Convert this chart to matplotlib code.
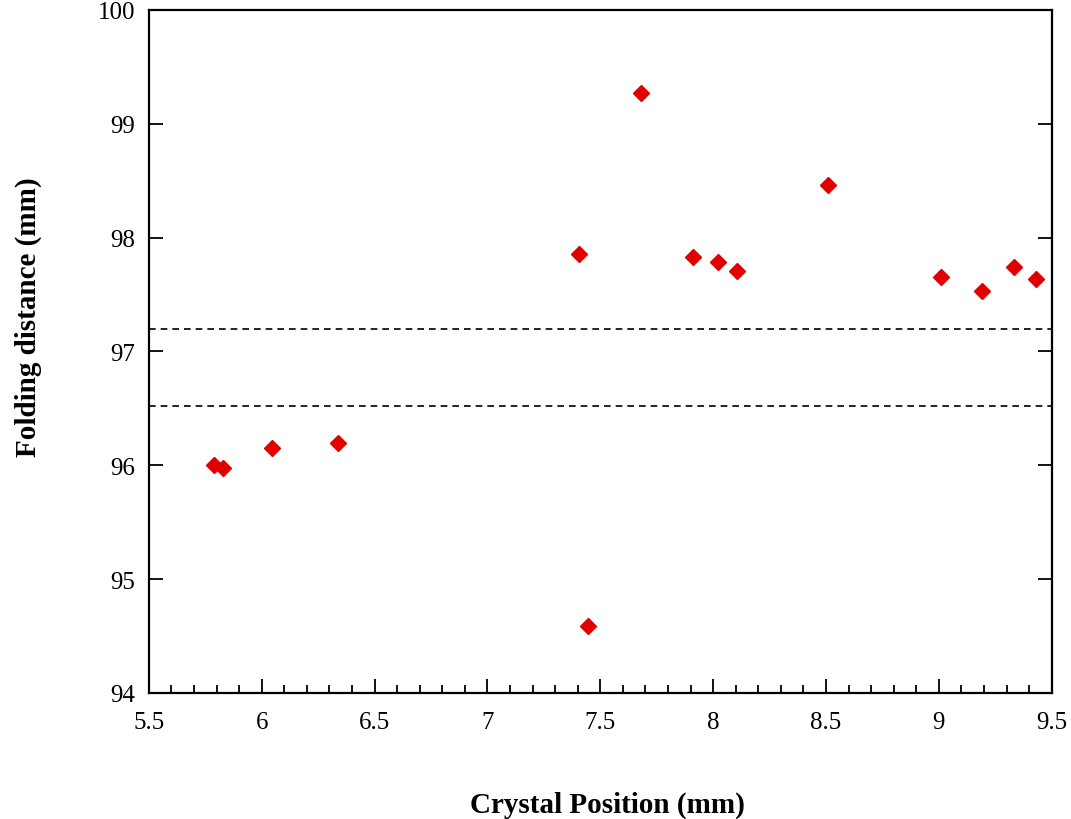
import matplotlib
matplotlib.use("Agg")
import matplotlib.pyplot as plt
from matplotlib.ticker import MultipleLocator

# crystal scan: position along the crystal vs measured folding distance
position = [5.79, 5.83, 6.045, 6.34, 7.405, 7.445, 7.68, 7.91, 8.02, 8.105,
            8.51, 9.01, 9.19, 9.335, 9.43]
folding = [96.00, 95.98, 96.15, 96.20, 97.86, 94.59, 99.27, 97.83, 97.79, 97.71,
           98.46, 97.65, 97.53, 97.74, 97.64]
limits = [97.20, 96.52]

plt.rcParams['font.family'] = ['Liberation Serif', 'DejaVu Serif']

fig = plt.figure(figsize=(10.71, 8.2), dpi=100)
ax = fig.add_axes([0.139, 0.1537, 0.843, 0.8329])

for h in limits:
    ax.axhline(h, color='black', lw=1.2, ls=(0, (4, 3)))
ax.plot(position, folding, 'D', color='#e00000', ms=8, mec='#e00000', zorder=3)

ax.set_xlim(5.5, 9.5)
ax.set_ylim(94, 100)
ax.xaxis.set_major_locator(MultipleLocator(0.5))
ax.xaxis.set_minor_locator(MultipleLocator(0.1))
ax.yaxis.set_major_locator(MultipleLocator(1))
ax.xaxis.set_major_formatter(plt.FuncFormatter(lambda v, p: '%g' % v))

ax.tick_params(axis='x', which='major', direction='in', length=10, width=1.3,
               top=False, labelsize=18, pad=13)
ax.tick_params(axis='x', which='minor', direction='in', length=6, width=1.3, top=False)
ax.tick_params(axis='y', which='major', direction='in', length=10, width=1.3,
               right=True, labelsize=18, pad=10)
for s in ax.spines.values():
    s.set_linewidth(1.6)

ax.set_xlabel('Crystal Position (mm)', fontsize=21, fontweight='bold')
ax.set_ylabel('Folding distance (mm)', fontsize=21, fontweight='bold')
ax.xaxis.set_label_coords(0.508, -0.143)
ax.yaxis.set_label_coords(-0.118, 0.552)

fig.savefig('out.png', dpi=100)
